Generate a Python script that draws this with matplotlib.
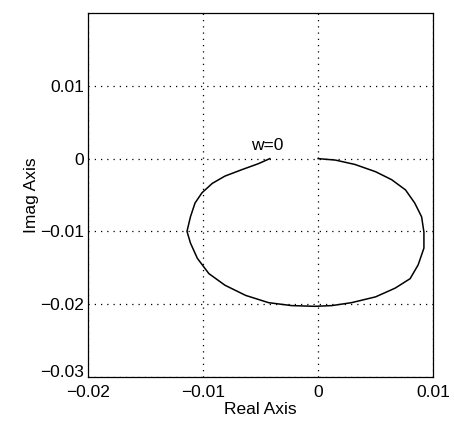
import numpy as np
from matplotlib import pyplot as plt
import matplotlib.transforms as mtransforms

# Nyquist curve points (real, imag)
re_pts = [0.0, 0.0015, 0.0032, 0.0050, 0.0064, 0.0076, 0.0084, 0.0090, 0.0092,
          0.0092, 0.0087, 0.0080, 0.0067, 0.0050, 0.0029, 0.0012, -0.0003,
          -0.0023, -0.0043, -0.0063, -0.0081, -0.0095, -0.0105, -0.0111, -0.0114,
          -0.0111, -0.0107, -0.0101, -0.0092, -0.0081, -0.0066, -0.0052, -0.0042]
im_pts = [0.0, -0.0002, -0.0008, -0.0018, -0.0029, -0.0043, -0.0061, -0.0080, -0.0101,
          -0.0123, -0.0146, -0.0165, -0.0178, -0.0190, -0.0198, -0.0202, -0.0203,
          -0.0202, -0.0198, -0.0188, -0.0174, -0.0158, -0.0137, -0.0116, -0.0100,
          -0.0080, -0.0061, -0.0047, -0.0034, -0.0024, -0.0015, -0.0007, 0.0]

xticks = [-0.02, -0.01, 0, 0.01]
xlabels = ["\u22120.02", "\u22120.01", "0", "0.01"]
yticks = [-0.03, -0.02, -0.01, 0, 0.01]
ylabels = ["\u22120.03", "\u22120.02", "\u22120.01", "0", "0.01"]

plt.rcParams['font.family'] = ['Liberation Sans', 'DejaVu Sans']
plt.rcParams['font.size'] = 12.5

fig = plt.figure(figsize=(4.54, 4.23), dpi=100)
ax = fig.add_axes([0.194, 0.109, 0.76, 0.86])

ax.plot(re_pts, im_pts, color='black', linewidth=1.1, solid_joinstyle='round')
ax.text(-0.0044, 0.0008, "w=0", ha='center', va='bottom', fontsize=12.5)

ax.set_xlim(-0.02, 0.01)
ax.set_ylim(-0.03, 0.02)
ax.set_xticks(xticks, xlabels)
ax.set_yticks(yticks, ylabels)
ax.tick_params(axis='y', direction='in', length=0, pad=3)
ax.tick_params(axis='x', direction='in', length=0, pad=6)
ax.grid(True, color='black', linestyle=(0, (1, 4)), linewidth=0.9)
for s in ax.spines.values():
    s.set_linewidth(0.9)

# lift the bottom y label a little, as in the original, so it clears -0.02
lbl = ax.get_yticklabels()[0]
lbl.set_transform(lbl.get_transform() + mtransforms.ScaledTranslation(0, 4 / 72, fig.dpi_scale_trans))

ax.set_xlabel("Real Axis", labelpad=1)
ax.set_ylabel("Imag Axis", labelpad=1)

fig.savefig("out.png", dpi=100)
